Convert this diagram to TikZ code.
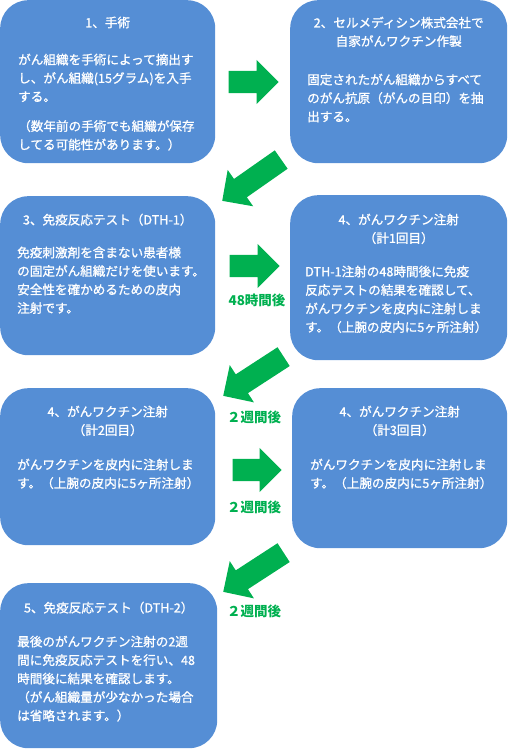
\documentclass[tikz,border=0pt]{standalone}
\usepackage{fontspec}
\setmainfont{Noto Sans CJK JP}
\newfontfamily\stepfont{Noto Sans CJK JP}[BoldFont={Noto Sans CJK JP}, BoldFeatures={FakeBold=1.1}]
\usetikzlibrary{positioning,shapes.arrows}

\definecolor{boxblue}{RGB}{85,142,213}
\definecolor{arrowgreen}{RGB}{0,176,80}

\begin{document}
\begin{tikzpicture}[x=1pt,y=1pt,
    stepbox/.style={fill=boxblue, rounded corners=28pt, inner sep=0pt, anchor=north west},
    boxtitle/.style={text=white, font=\stepfont\bfseries\fontsize{12.6}{18.5}\selectfont, align=center, inner sep=0pt},
    boxtext/.style={text=white, font=\stepfont\bfseries\fontsize{12.6}{18.5}\selectfont, align=left, inner sep=0pt},
    garrow/.style={single arrow, fill=arrowgreen, draw=none, minimum width=44pt,
        single arrow head extend=11pt, inner xsep=0pt, inner ysep=11pt, anchor=tip},
    waitlabel/.style={text=arrowgreen, font=\fontsize{13.5}{16}\selectfont\bfseries, inner sep=0pt}]

    \useasboundingbox (0,0) rectangle (509,-749);

    % the seven steps
    \node[stepbox, minimum width=215pt, minimum height=163pt] (s1) at (0,0) {};
    \node[stepbox, minimum width=217pt, minimum height=163pt] (s2) at (290,0) {};
    \node[stepbox, minimum width=215pt, minimum height=159pt] (s3) at (0,-196) {};
    \node[stepbox, minimum width=217pt, minimum height=165pt] (s4) at (290,-195) {};
    \node[stepbox, minimum width=215pt, minimum height=157pt] (s5) at (0,-388) {};
    \node[stepbox, minimum width=215pt, minimum height=160pt] (s6) at (292,-388) {};
    \node[stepbox, minimum width=217pt, minimum height=165pt] (s7) at (0,-583) {};

    % step 1
    \node[boxtitle, below=16.5pt of s1.north] (t1) {1、手術};
    \node[boxtext, below right=53.5pt and 18pt of s1.north west] (b1)
        {がん組織を手術によって摘出す\\し、がん組織(15グラム)を入手\\する。\\[11pt]%
         （数年前の手術でも組織が保存\\してる可能性があります。）};

    % step 2
    \node[boxtitle, below=16.5pt of s2.north] (t2) {2、セルメディシン株式会社で\\自家がんワクチン作製};
    \node[boxtext, below right=73.5pt and 17pt of s2.north west] (b2)
        {固定されたがん組織からすべて\\のがん抗原（がんの目印）を抽\\出する。};

    % step 3
    \node[boxtitle, below=17.5pt of s3.north] (t3) {3、免疫反応テスト（DTH-1）};
    \node[boxtext, below right=50.5pt and 17pt of s3.north west] (b3)
        {免疫刺激剤を含まない患者様\\の固定がん組織だけを使います。\\安全性を確かめるための皮内\\注射です。};

    % step 4, first shot
    \node[boxtitle, below=18.5pt of s4.north] (t4) {4、がんワクチン注射\\（計1回目）};
    \node[boxtext, below right=70.5pt and 15pt of s4.north west] (b4)
        {DTH-1注射の48時間後に免疫\\反応テストの結果を確認して、\\がんワクチンを皮内に注射しま\\す。（上腕の皮内に5ヶ所注射）};

    % step 4, second shot
    \node[boxtitle, below=17.5pt of s5.north] (t5) {4、がんワクチン注射\\（計2回目）};
    \node[boxtext, below right=70.5pt and 17pt of s5.north west] (b5)
        {がんワクチンを皮内に注射しま\\す。（上腕の皮内に5ヶ所注射）};

    % step 4, third shot
    \node[boxtitle, below=17.5pt of s6.north] (t6) {4、がんワクチン注射\\（計3回目）};
    \node[boxtext, below right=70.5pt and 18pt of s6.north west] (b6)
        {がんワクチンを皮内に注射しま\\す。（上腕の皮内に5ヶ所注射）};

    % step 5
    \node[boxtitle, below=18.5pt of s7.north] (t7) {5、免疫反応テスト（DTH-2）};
    \node[boxtext, below right=52.5pt and 17pt of s7.north west] (b7)
        {最後のがんワクチン注射の2週\\間に免疫反応テストを行い、48\\時間後に結果を確認します。\\（がん組織量が少なかった場合\\は省略されます。）};

    % green block arrows
    \node[garrow, minimum height=50pt] (a1) at (279,-82) {};
    \node[garrow, minimum height=72pt, rotate=215] (a2) at (222,-201) {};
    \node[garrow, minimum height=50pt] (a3) at (280,-266) {};
    \node[garrow, minimum height=72pt, rotate=213] (a4) at (223,-396) {};
    \node[garrow, minimum height=49pt] (a5) at (282,-470) {};
    \node[garrow, minimum height=72pt, rotate=213] (a6) at (223,-592) {};

    % waiting times
    \node[waitlabel] (w1) at (257,-300) {48時間後};
    \node[waitlabel] (w2) at (254,-417) {２週間後};
    \node[waitlabel] (w3) at (254,-507) {２週間後};
    \node[waitlabel] (w4) at (254,-611) {２週間後};

\end{tikzpicture}
\end{document}
